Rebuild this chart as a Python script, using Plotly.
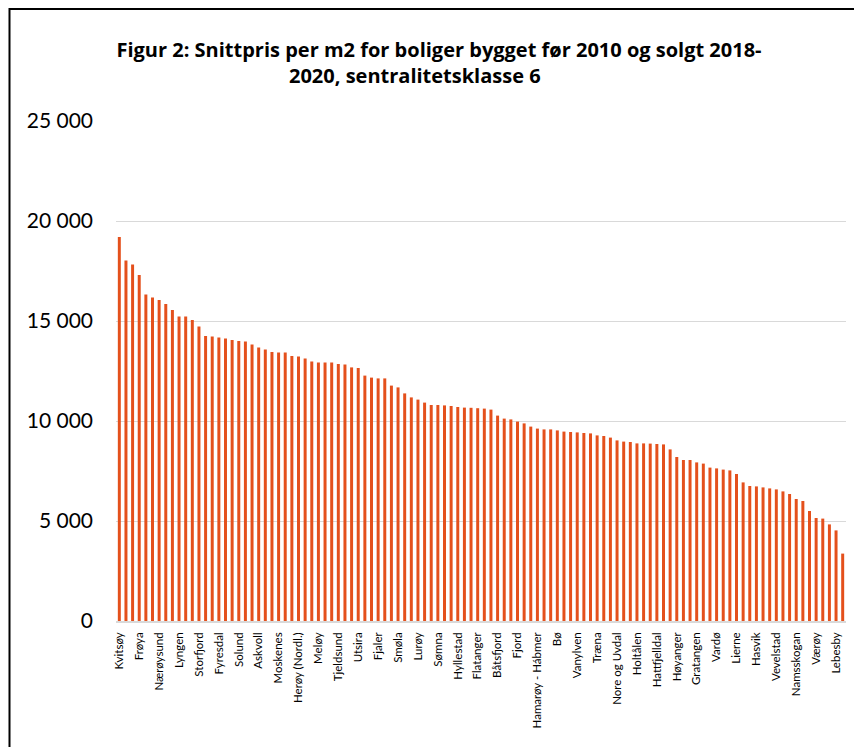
import plotly.graph_objects as go

# Average price per m2 (NOK), sorted descending, 110 municipalities
values = [
    19200, 18030, 17820, 17300, 16330, 16180, 16050, 15850, 15550, 15220,
    15220, 15050, 14720, 14250, 14220, 14180, 14120, 14050, 14000, 13980,
    13830, 13670, 13580, 13450, 13420, 13420, 13250, 13220, 13130, 12970,
    12930, 12920, 12920, 12850, 12820, 12680, 12650, 12270, 12170, 12130,
    12130, 11770, 11680, 11380, 11180, 11070, 10920, 10800, 10800, 10780,
    10750, 10700, 10670, 10660, 10640, 10620, 10570, 10270, 10120, 10080,
    9970, 9880, 9720, 9620, 9580, 9580, 9530, 9470, 9450, 9430,
    9400, 9380, 9280, 9250, 9170, 9030, 8970, 8950, 8880, 8880,
    8870, 8850, 8830, 8580, 8200, 8050, 8050, 7930, 7870, 7670,
    7630, 7570, 7530, 7350, 6930, 6750, 6730, 6680, 6630, 6580,
    6480, 6350, 6100, 6000, 5500, 5150, 5120, 4830, 4530, 3370,
]

# Every third municipality is labelled on the axis
tick_labels = [
    "Kvitsøy", "Frøya", "Nærøysund", "Lyngen", "Storfjord", "Fyresdal",
    "Solund", "Askvoll", "Moskenes", "Herøy (Nordl.)", "Meløy", "Tjeldsund",
    "Utsira", "Fjaler", "Smøla", "Lurøy", "Sømna", "Hyllestad", "Flatanger",
    "Båtsfjord", "Fjord", "Hamarøy - Hábmer", "Bø", "Vanylven", "Træna",
    "Nore og Uvdal", "Holtålen", "Hattfjelldal", "Høyanger", "Gratangen",
    "Vardø", "Lierne", "Hasvik", "Vevelstad", "Namsskogan", "Værøy", "Lebesby",
]
label_step = 3

y_ticks = [0, 5000, 10000, 15000, 20000, 25000]

title_line1 = "Figur 2: Snittpris per m2 for boliger bygget før 2010 og solgt 2018-"
title_line2 = "2020, sentralitetsklasse 6"

positions = list(range(len(values)))
tick_positions = positions[::label_step][:len(tick_labels)]

FONT = "Lato"
TITLE_FONT = "Open Sans"

W, H = 862, 747
L, T, PW, PH = 108, 113, 730, 500

fig = go.Figure(
    go.Bar(
        x=positions,
        y=values,
        marker=dict(color="#E4501C", line=dict(width=0)),
        hoverinfo="y",
    )
)

fig.update_layout(
    width=W,
    height=H,
    margin=dict(l=L, r=W - L - PW, t=T, b=H - T - PH),
    paper_bgcolor="white",
    plot_bgcolor="white",
    bargap=0.55,
    showlegend=False,
    separators=", ",
    font=dict(family=FONT, color="#000000"),
    title=dict(
        text="<b>" + title_line1 + "</b>",
        x=431 / W,
        xref="container",
        xanchor="center",
        y=1 - 42 / H,
        yref="container",
        yanchor="middle",
        font=dict(family=TITLE_FONT, size=20, color="#000000"),
    ),
    annotations=[
        dict(
            text="<b>" + title_line2 + "</b>",
            xref="paper",
            yref="paper",
            x=(407 - L) / PW,
            y=1 + (T - 68) / PH,
            xanchor="center",
            yanchor="middle",
            showarrow=False,
            font=dict(family=TITLE_FONT, size=20, color="#000000"),
        )
    ],
    shapes=[
        dict(
            type="rect",
            xref="paper",
            yref="paper",
            x0=(1.5 - L) / PW,
            x1=(W - 1.5 - L) / PW,
            y0=(T + PH - (H - 1.5)) / PH,
            y1=(T + PH - 1) / PH,
            line=dict(color="#000000", width=2),
            fillcolor="rgba(0,0,0,0)",
            layer="below",
        )
    ],
)

fig.update_xaxes(
    range=[-0.5, len(values) - 0.5],
    tickmode="array",
    tickvals=tick_positions,
    ticktext=tick_labels,
    tickangle=-90,
    tickfont=dict(family=FONT, size=11.5, color="#000000"),
    showgrid=False,
    showline=True,
    linecolor="#D9D9D9",
    linewidth=1.5,
    ticks="",
    ticklabelstandoff=5,
    zeroline=False,
)

fig.update_yaxes(
    range=[0, 25000],
    tickmode="array",
    tickvals=y_ticks,
    tickformat=",d",
    tickfont=dict(family=FONT, size=21, color="#000000"),
    showgrid=True,
    gridcolor="#D9D9D9",
    gridwidth=1.2,
    zeroline=False,
    showline=False,
    ticks="",
    ticklabelstandoff=22,
)

fig.write_html("out.html")
